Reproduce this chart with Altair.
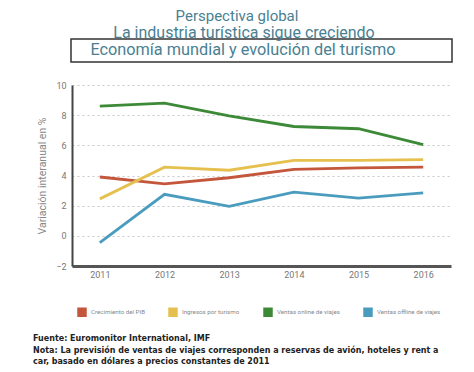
import altair as alt
import pandas as pd

years = ["2011", "2012", "2013", "2014", "2015", "2016"]
series = ["Crecimiento del PIB", "Ingresos por turismo",
          "Ventas online de viajes", "Ventas offline de viajes"]
pib = [3.9, 3.45, 3.85, 4.4, 4.5, 4.55]
ingresos = [2.45, 4.55, 4.35, 5.0, 5.0, 5.05]
online = [8.6, 8.8, 7.95, 7.25, 7.1, 6.05]
offline = [-0.45, 2.75, 1.95, 2.9, 2.5, 2.85]
y_ticks = [-2, 0, 2, 4, 6, 8, 10]

line_colors = ["#c4573b", "#e6c04f", "#3c8a37", "#4a9cbf"]

title_lines = ["Perspectiva global", "La industria turística sigue creciendo",
               "Economía mundial y evolución del turismo"]
footer_lines = ["Fuente: Euromonitor International, IMF",
                "Nota: La previsión de ventas de viajes corresponden a reservas de avión, hoteles y rent a",
                "car, basado en dólares a precios constantes de 2011"]

rows = []
for s, vals in zip(series, [pib, ingresos, online, offline]):
    for y, v in zip(years, vals):
        rows.append({"Año": y, "Serie": s, "Valor": v})
df = pd.DataFrame(rows)

FONT = "Roboto"
TCOL = "#4a7f92"

x_enc = alt.X("Año:O", sort=years,
              scale=alt.Scale(type="point", padding=0.43),
              axis=alt.Axis(title=None, labelAngle=0, ticks=False, grid=False,
                            domainColor="#555555", domainWidth=3,
                            labelColor="#777777", labelFontSize=9, labelFont=FONT,
                            labelPadding=4))
y_enc = alt.Y("Valor:Q", scale=alt.Scale(domain=[-2, 10], nice=False, zero=False),
              axis=alt.Axis(values=y_ticks, title="Variación interanual en %",
                            ticks=False, domainColor="#444444", domainWidth=2,
                            labelColor="#777777", labelFontSize=9, labelFont=FONT,
                            labelPadding=6, titleFont=FONT, titleFontSize=10.5,
                            titleFontWeight="normal", titleColor="#888888",
                            titlePadding=8, grid=True, gridDash=[2, 3],
                            gridColor="#c8c8c8", gridWidth=1, labelOverlap=False))

lines = alt.Chart(df).mark_line(strokeWidth=2.8).encode(
    x=x_enc, y=y_enc,
    color=alt.Color("Serie:N", sort=series,
                    scale=alt.Scale(domain=series, range=line_colors),
                    legend=alt.Legend(title=None, orient="none", legendX=5, legendY=222,
                                      direction="horizontal", symbolType="square",
                                      symbolSize=1, symbolStrokeWidth=8.5,
                                      labelFont=FONT, labelFontSize=6.2,
                                      labelColor="#888888", labelOffset=4,
                                      columnPadding=10)),
)

def text_layer(txt, x, y, size, color, weight="normal", align="center", font=FONT):
    return alt.Chart(pd.DataFrame({"t": [txt]})).mark_text(
        font=font, fontSize=size, color=color, fontWeight=weight,
        align=align, baseline="alphabetic").encode(
        text="t:N", x=alt.value(x), y=alt.value(y))

box = alt.Chart(pd.DataFrame({"t": [0]})).mark_rect(
    fill="white", fillOpacity=0, stroke="#333333", strokeWidth=1.5).encode(
    x=alt.value(-1), x2=alt.value(380), y=alt.value(-46), y2=alt.value(-23))

t1 = text_layer(title_lines[0], 165, -64.5, 15, TCOL)
t2 = text_layer(title_lines[1], 172, -47.5, 16, TCOL)
t3 = text_layer(title_lines[2], 171, -30, 16.3, TCOL)

FF = "DejaVu Sans"
f1 = text_layer(footer_lines[0], -39, 256, 8, "#222222", "bold", "left", FF)
f2 = text_layer(footer_lines[1], -39, 267.5, 8, "#222222", "bold", "left", FF)
f3 = text_layer(footer_lines[2], -39, 278.5, 8, "#222222", "bold", "left", FF)

chart = alt.layer(lines, box, t1, t2, t3, f1, f2, f3).properties(
    width=379, height=181,
    padding={"left": 64, "top": 77, "right": 15, "bottom": 102},
    autosize=alt.AutoSizeParams(type="none"),
).configure_view(stroke=None)

chart.save("out.html", embed_options={"renderer": "svg", "actions": False})
